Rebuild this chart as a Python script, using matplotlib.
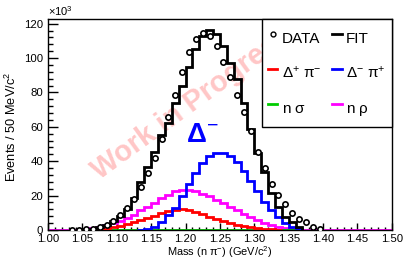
import matplotlib
matplotlib.use('Agg')
import matplotlib.pyplot as plt
import numpy as np
from matplotlib.ticker import MultipleLocator, FormatStrFormatter

plt.rcParams['font.family'] = ['Liberation Sans', 'DejaVu Sans']
plt.rcParams['mathtext.fontset'] = 'custom'
plt.rcParams['mathtext.rm'] = 'Liberation Sans'
plt.rcParams['mathtext.it'] = 'Liberation Sans:italic'
plt.rcParams['mathtext.bf'] = 'Liberation Sans:bold'

# 50 bins of 10 MeV from 1.00 to 1.50 GeV/c^2, counts in units of 10^3
mass_lo, mass_hi, n_bins = 1.00, 1.50, 50
nan = np.nan

data_k = [nan, nan, nan, 0.1, 0.2, 0.4, 0.8, 1.6, 2.9, 5.4,
          8.7, 13, 18, 25, 33, 42, 53, 65.5, 78.5, 92,
          103.5, 111, 114.5, 113, 107, 98, 89, 78.5, 68.5, 57.5,
          45.5, 36, 27, 20.3, 15.3, 10.1, 6.2, 4.5, 1.6, 0.4,
          nan, nan, nan, nan, nan, nan, nan, nan, nan, nan]

fit_k = [0, 0, 0, 0, 0.2, 0.4, 0.8, 1.5, 3, 5,
         8, 12.5, 18.5, 28, 36.8, 45.5, 55, 62.5, 74, 84,
         95, 105.5, 113, 116.5, 114, 107, 97, 88, 74, 59,
         45, 34, 21.5, 13.5, 7.6, 4.6, 1.5, 0]

dpp_k = [0, 0, 0, 0, 0, 0, 0, 0.3, 0.8, 1.5,
         2.5, 3.5, 4.8, 6, 7.2, 8.4, 9.6, 10.8, 11.6, 12,
         11.5, 10.5, 9.2, 7.8, 6.5, 5.2, 4, 3, 2.2, 1.5,
         1, 0.6, 0.3, 0.1, 0]

dmp_k = [0, 0, 0, 0, 0, 0, 0, 0, 0, 0,
         0, 0, 0, 0.2, 0.8, 2, 4.5, 8.5, 13, 20,
         27, 33, 39, 43, 45, 45, 43, 39.5, 34.5, 28.5,
         22.5, 16.5, 11.5, 7.5, 4, 1.5, 0.5, 0]

# n sigma is flat at zero over 1.06 - 1.37
nsig_k = [nan] * 6 + [0] * 31 + [nan] * 13

nrho_k = [0, 0, 0, 0, 0, 0, 1, 1.9, 2.8, 3.9,
          5.5, 7, 9, 11.5, 13.5, 15.5, 18.5, 20.5, 22.8, 23.3,
          23.3, 22.5, 21, 19.5, 17.5, 15.5, 13.5, 11.5, 9.5, 7.7,
          6, 4.3, 3, 2, 1.2, 0.7, 0.3, 0, 0, 0,
          0, 0, 0, 0, 0, 0, 0, 0, 0, 0]

labels = ['DATA', 'FIT', r'$\mathrm{\Delta^{+}\ \pi^{-}}$', r'$\mathrm{\Delta^{-}\ \pi^{+}}$',
          r'$\mathrm{n\ \sigma}$', r'$\mathrm{n\ \rho}$']

edges = np.linspace(mass_lo, mass_hi, n_bins + 1)
centers = 0.5 * (edges[:-1] + edges[1:])


def draw_hist(ax, vals, color, z):
    # draw only the span where the histogram is defined / non-zero
    v = np.full(n_bins, np.nan)
    v[:len(vals)] = vals
    if np.all(np.nan_to_num(v) == 0):
        ok = np.where(~np.isnan(v))[0]
    else:
        ok = np.where(np.nan_to_num(v) > 0)[0]
    a, b = ok[0], ok[-1] + 1
    ax.stairs(v[a:b], edges[a:b + 1], color=color, lw=2.0, zorder=z)


fig = plt.figure(figsize=(4.04, 2.59), dpi=100)
ax = fig.add_axes([0.119, 0.112, 0.851, 0.813])

ax.text(0.42, 0.605, 'Work in Progress', transform=ax.transAxes, rotation=36,
        ha='center', va='center', fontsize=21, fontweight='bold',
        color=(1.0, 0.70, 0.70), alpha=0.75, zorder=0)

ax.stairs(nrho_k, edges, color='#ff00ff', lw=2.0, zorder=2)
draw_hist(ax, nsig_k, '#00cc00', 2)
draw_hist(ax, dpp_k, '#ff0000', 3)
draw_hist(ax, dmp_k, '#0000ff', 3)
draw_hist(ax, fit_k, 'black', 4)
ax.plot(centers, data_k, 'o', ms=3.8, mfc='white', mec='black', mew=1.2, zorder=5)

ax.text(0.40, 0.39, r'$\mathbf{\Delta}^{-}$', transform=ax.transAxes, fontsize=20,
        color='#0000ff', ha='left', va='bottom')

h_data = plt.Line2D([], [], ls='none', marker='o', ms=3.5, mfc='white', mec='black', mew=1.0)
h_fit = plt.Line2D([], [], color='black', lw=2)
h_dpp = plt.Line2D([], [], color='#ff0000', lw=2)
h_dmp = plt.Line2D([], [], color='#0000ff', lw=2)
h_nsig = plt.Line2D([], [], color='#00cc00', lw=2)
h_nrho = plt.Line2D([], [], color='#ff00ff', lw=2)
leg = ax.legend([h_data, h_dpp, h_nsig, h_fit, h_dmp, h_nrho],
                [labels[0], labels[2], labels[4], labels[1], labels[3], labels[5]],
                ncol=2, loc='upper left', bbox_to_anchor=(0.622, 1.0, 0.378, 0.0),
                mode='expand', borderaxespad=0, fontsize=11, handlelength=0.6,
                handleheight=2.2, handletextpad=0.3, labelspacing=0.6, borderpad=0.4,
                fancybox=False, framealpha=1, edgecolor='black')
leg.get_frame().set_linewidth(1.0)
leg.set_zorder(6)

ax.set_xlim(mass_lo, mass_hi)
ax.set_ylim(0, 122.5)
ax.xaxis.set_major_locator(MultipleLocator(0.05))
ax.xaxis.set_minor_locator(MultipleLocator(0.01))
ax.xaxis.set_major_formatter(FormatStrFormatter('%.2f'))
ax.yaxis.set_major_locator(MultipleLocator(20))
ax.yaxis.set_minor_locator(MultipleLocator(4))
ax.tick_params(axis='x', which='major', direction='in', length=5, width=1, labelsize=8.2, pad=3)
ax.tick_params(axis='x', which='minor', direction='in', length=2.5, width=1)
ax.tick_params(axis='y', which='major', direction='in', length=7, width=1, labelsize=8.2, pad=3.5)
ax.tick_params(axis='y', which='minor', direction='in', length=3.5, width=1)
for s in ax.spines.values():
    s.set_linewidth(1.0)

ax.text(0.0, 1.005, r'$\times10^{3}$', transform=ax.transAxes, fontsize=8,
        ha='left', va='bottom')
ax.set_xlabel('Mass (n π$^{-}$) (GeV/c$^{2}$)', fontsize=7.9)
ax.xaxis.set_label_coords(0.5, -0.068)
ax.set_ylabel('Events / 50 MeV/c$^{2}$', fontsize=9.2)
ax.yaxis.set_label_coords(-0.086, 0.49)

fig.savefig('out.png', dpi=100)
